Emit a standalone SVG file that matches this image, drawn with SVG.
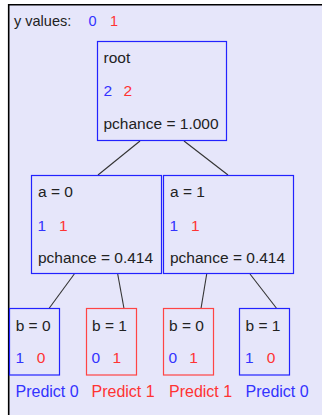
<svg xmlns="http://www.w3.org/2000/svg" width="322" height="415" viewBox="0 0 322 415">
<style>
text{font-family:"Liberation Sans",Arial,sans-serif;font-size:15.5px;fill:#222}
.b{fill:#3333ff}
.r{fill:#ff3333}
.nb{fill:#e6e6fa;stroke:#2222ff;stroke-width:1.2}
.nr{fill:#e6e6fa;stroke:#ff4444;stroke-width:1.2}
.pr{font-size:16px}
#connectors line{stroke:#333;stroke-width:1.1}
</style>
<rect x="0" y="0" width="322" height="415" fill="#ffffff"/>
<rect x="8" y="4" width="314" height="411" fill="#e6e6fa"/>
<line x1="8" y1="4.7" x2="322" y2="4.7" stroke="#000" stroke-width="1.6"/>
<line x1="8.7" y1="4" x2="8.7" y2="415" stroke="#000" stroke-width="1.6"/>
<g id="legend">
<text x="14" y="26" style="font-size:14.5px">y values:</text>
<text class="b" x="88.5" y="26" style="font-size:14.5px">0</text>
<text class="r" x="110" y="26" style="font-size:14.5px">1</text>
</g>
<g id="connectors">
<line x1="140" y1="141" x2="98" y2="175"/>
<line x1="184" y1="141" x2="228" y2="175"/>
<line x1="74.3" y1="274" x2="49" y2="308.5"/>
<line x1="117.7" y1="274" x2="124" y2="308.5"/>
<line x1="206.7" y1="274" x2="201" y2="308.5"/>
<line x1="250" y1="274" x2="276.7" y2="308.5"/>
</g>
<g id="root">
<rect class="nb" x="97.5" y="41.5" width="129" height="99"/>
<text x="103.5" y="63">root</text>
<text class="b" x="103.5" y="95.5">2</text>
<text class="r" x="123.5" y="95.5">2</text>
<text x="103.5" y="129">pchance = 1.000</text>
</g>
<g id="a0">
<rect class="nb" x="31.5" y="175.5" width="130" height="98"/>
<text x="38" y="196.5">a = 0</text>
<text class="b" x="37.5" y="230.5">1</text>
<text class="r" x="59" y="230.5">1</text>
<text x="38" y="263">pchance = 0.414</text>
</g>
<g id="a1">
<rect class="nb" x="163.5" y="175.5" width="130" height="98"/>
<text x="170" y="196.5">a = 1</text>
<text class="b" x="169.5" y="230.5">1</text>
<text class="r" x="191" y="230.5">1</text>
<text x="170" y="263">pchance = 0.414</text>
</g>
<g id="leaf1">
<rect class="nb" x="9.5" y="308.5" width="50" height="66.5"/>
<text x="15.7" y="330.7">b = 0</text>
<text class="b" x="15.6" y="363.3">1</text>
<text class="r" x="36.8" y="363.3">0</text>
<text class="b pr" x="15.5" y="397.3">Predict 0</text>
</g>
<g id="leaf2">
<rect class="nr" x="86.5" y="308.5" width="50" height="66.5"/>
<text x="92" y="330.7">b = 1</text>
<text class="b" x="91.4" y="363.3">0</text>
<text class="r" x="112.6" y="363.3">1</text>
<text class="r pr" x="91.5" y="397.3">Predict 1</text>
</g>
<g id="leaf3">
<rect class="nr" x="163.5" y="308.5" width="50" height="66.5"/>
<text x="169" y="330.7">b = 0</text>
<text class="b" x="168.4" y="363.3">0</text>
<text class="r" x="189.3" y="363.3">1</text>
<text class="r pr" x="169" y="397.3">Predict 1</text>
</g>
<g id="leaf4">
<rect class="nb" x="239.5" y="308.5" width="50" height="66.5"/>
<text x="245.5" y="330.7">b = 1</text>
<text class="b" x="245" y="363.3">1</text>
<text class="r" x="266.8" y="363.3">0</text>
<text class="b pr" x="245.5" y="397.3">Predict 0</text>
</g>
</svg>
